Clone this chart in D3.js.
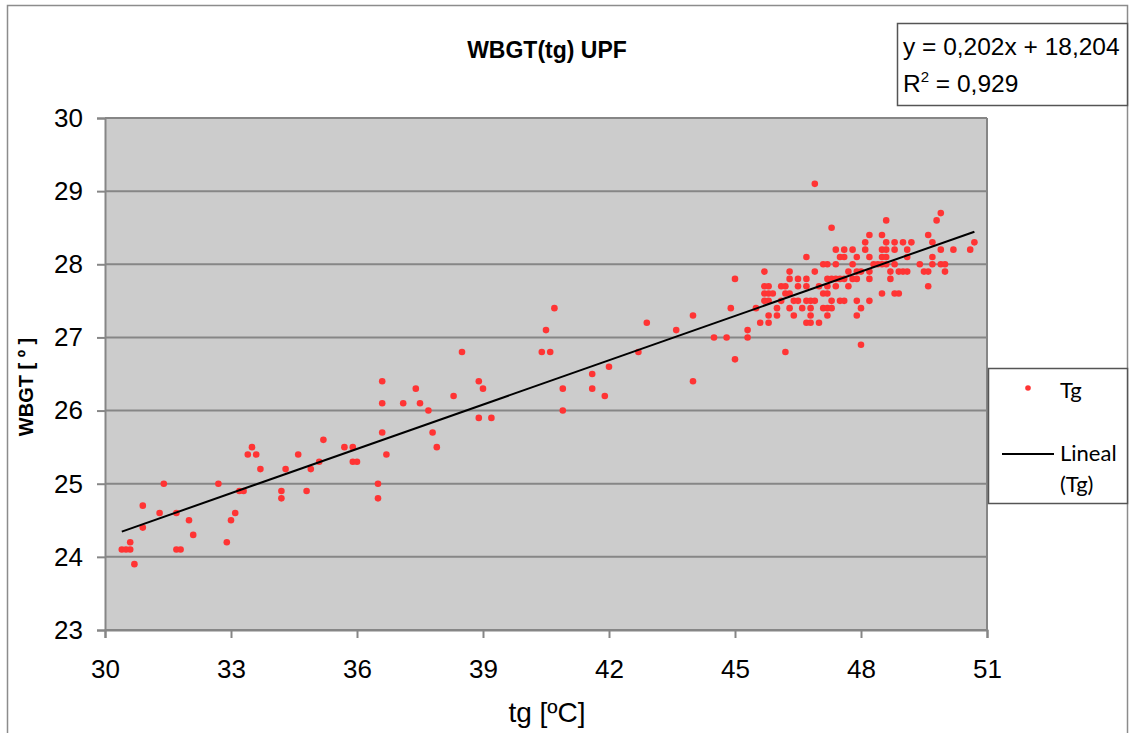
<!DOCTYPE html>
<html>
<head>
<meta charset="utf-8">
<script src="https://cdn.jsdelivr.net/npm/d3@7"></script>
<style>
  html, body { margin: 0; padding: 0; background: #ffffff; }
  svg { display: block; }
</style>
</head>
<body>
<svg id="chart" width="1131" height="733"></svg>
<script>
// Globe temperature (tg) readings and WBGT values, grouped by measured WBGT.
const sparseTg   = [30.4,30.5,30.6,30.6,30.7,30.9,30.9,31.3,31.4,31.7,31.7,31.8,32.0,32.1,32.7,32.9,33.0,33.1,33.2,33.3,33.4,33.5,33.6,33.7,34.2,34.2,34.3,34.6,34.8,34.9,35.1,35.2,35.7,35.9,35.9,36.0,36.5,36.5,36.6,36.6,36.6,36.7,37.1,37.4,37.5,37.7,37.8,37.9,38.3,38.5,38.9,39.0,38.9,39.2,40.4,40.5,40.6,40.7,40.9,40.9,41.6,41.6,41.9,42.0,42.7,42.9,43.6,44.0,44.0,44.5,44.8,45.0,45.0,44.9,45.3,45.3,45.5];
const sparseWbgt = [24.1,24.1,24.1,24.2,23.9,24.4,24.7,24.6,25.0,24.6,24.1,24.1,24.5,24.3,25.0,24.2,24.5,24.6,24.9,24.9,25.4,25.5,25.4,25.2,24.9,24.8,25.2,25.4,24.9,25.2,25.3,25.6,25.5,25.5,25.3,25.3,25.0,24.8,26.4,26.1,25.7,25.4,26.1,26.3,26.1,26.0,25.7,25.5,26.2,26.8,26.4,26.3,25.9,25.9,26.8,27.1,26.8,27.4,26.3,26.0,26.5,26.3,26.2,26.6,26.8,27.2,27.1,27.3,26.4,27.0,27.0,27.8,26.7,27.4,27.1,27.0,27.4];

// Dense group of readings above 45 ºC, one row per WBGT value.
const rowWbgt = [29.1, 28.7, 28.6, 28.5, 28.4, 28.3, 28.2, 28.1, 28.0, 27.9, 27.8, 27.7, 27.6, 27.5, 27.4, 27.3, 27.2, 26.9, 26.8];
const rowTg = [
  [46.9],
  [49.9],
  [48.6, 49.8],
  [47.3],
  [48.2, 48.5, 49.6],
  [48.1, 48.6, 48.8, 49.0, 49.2, 49.7, 50.7],
  [47.4, 47.6, 47.8, 48.1, 48.5, 48.6, 48.8, 49.1, 49.9, 50.2, 50.6],
  [46.7, 47.5, 47.6, 47.9, 48.2, 48.5, 48.6, 49.1, 49.7],
  [47.1, 47.2, 47.4, 47.8, 48.3, 48.4, 48.5, 48.6, 48.8, 49.4, 49.7, 49.9, 50.0],
  [45.7, 46.3, 46.9, 47.7, 47.9, 48.0, 48.2, 48.7, 48.9, 49.0, 49.1, 49.5, 49.6, 50.0],
  [46.3, 46.5, 46.7, 47.2, 47.3, 47.4, 47.5, 47.6, 47.8, 47.9, 48.2, 48.7],
  [45.7, 45.8, 46.1, 46.2, 46.5, 46.7, 47.0, 47.2, 47.4, 47.7, 49.6],
  [45.7, 45.8, 45.9, 46.2, 46.3, 47.1, 47.2, 48.5, 48.8, 48.9],
  [45.7, 45.8, 46.1, 46.4, 46.5, 46.7, 46.8, 46.9, 47.3, 47.5, 47.6, 47.9, 48.2],
  [46.0, 46.3, 46.6, 46.8, 47.1, 47.2, 47.3, 48.0],
  [45.8, 46.0, 46.4, 46.8, 47.2, 47.9],
  [45.6, 45.8, 46.7, 46.8, 47.0],
  [48.0],
  [46.2]
];

// Linear fit reported for the series.
const fitSlope = 0.202;
const fitIntercept = 18.204;
const fitLabel = "y = 0,202x + 18,204";
const r2Value = "0,929";

const xTicks = [30, 33, 36, 39, 42, 45, 48, 51];
const yTicks = [23, 24, 25, 26, 27, 28, 29, 30];

const points = sparseTg.map((t, i) => ({ x: t, y: sparseWbgt[i] }));
rowWbgt.forEach((w, i) => rowTg[i].forEach(t => points.push({ x: t, y: w })));

const svg = d3.select("#chart");
const plot = { left: 105, right: 987, top: 118, bottom: 630 };

const x = d3.scaleLinear().domain([30, 51]).range([plot.left, plot.right]);
const y = d3.scaleLinear().domain([23, 30]).range([plot.bottom, plot.top]);

const markerColor = "#ff3434";
const fontMain = "'Liberation Sans', Arial, sans-serif";
const fontLegend = "Lato, 'Open Sans', sans-serif";

// Outer chart frame
svg.append("rect")
  .attr("x", 7.5).attr("y", 5.5).attr("width", 1120).attr("height", 740)
  .attr("fill", "#ffffff").attr("stroke", "#8c8c8c").attr("stroke-width", 1.5);

// Plot background
svg.append("rect")
  .attr("x", plot.left).attr("y", plot.top)
  .attr("width", plot.right - plot.left).attr("height", plot.bottom - plot.top)
  .attr("fill", "#cccccc");

// Horizontal gridlines
svg.append("g")
  .selectAll("line")
  .data(yTicks)
  .join("line")
  .attr("x1", plot.left).attr("x2", plot.right)
  .attr("y1", d => y(d)).attr("y2", d => y(d))
  .attr("stroke", "#868686").attr("stroke-width", 2);

// Right border of plot area
svg.append("line")
  .attr("x1", plot.right).attr("x2", plot.right)
  .attr("y1", plot.top).attr("y2", plot.bottom)
  .attr("stroke", "#868686").attr("stroke-width", 2);

// Axes
const yAxis = svg.append("g")
  .attr("transform", `translate(${plot.left},0)`)
  .call(d3.axisLeft(y).tickValues(yTicks).tickSize(8).tickPadding(14).tickFormat(d3.format("d")));
const xAxis = svg.append("g")
  .attr("transform", `translate(0,${plot.bottom})`)
  .call(d3.axisBottom(x).tickValues(xTicks).tickSize(8).tickPadding(22).tickFormat(d3.format("d")));

[yAxis, xAxis].forEach(g => {
  g.select(".domain").attr("stroke", "#868686").attr("stroke-width", 2);
  g.selectAll(".tick line").attr("stroke", "#868686").attr("stroke-width", 2);
  g.selectAll(".tick text")
    .attr("fill", "#000").attr("font-family", fontMain).attr("font-size", 26);
});

// Scatter markers
svg.append("g")
  .selectAll("circle")
  .data(points)
  .join("circle")
  .attr("cx", d => x(d.x))
  .attr("cy", d => y(d.y))
  .attr("r", 3.3)
  .attr("fill", markerColor);

// Trend line across the observed range
const xExtent = d3.extent(points, d => d.x);
svg.append("line")
  .attr("x1", x(xExtent[0])).attr("y1", y(fitSlope * xExtent[0] + fitIntercept))
  .attr("x2", x(xExtent[1])).attr("y2", y(fitSlope * xExtent[1] + fitIntercept))
  .attr("stroke", "#000").attr("stroke-width", 2);

// Title
svg.append("text")
  .attr("x", 547).attr("y", 58)
  .attr("text-anchor", "middle")
  .attr("font-family", fontMain).attr("font-weight", "bold").attr("font-size", 23)
  .text("WBGT(tg) UPF");

// Axis titles
svg.append("text")
  .attr("x", 547).attr("y", 722)
  .attr("text-anchor", "middle")
  .attr("font-family", fontMain).attr("font-size", 28)
  .text("tg [ºC]");

svg.append("text")
  .attr("transform", "translate(33,387) rotate(-90)")
  .attr("text-anchor", "middle")
  .attr("font-family", fontMain).attr("font-weight", "bold").attr("font-size", 20)
  .text("WBGT [ º ]");

// Regression equation box
svg.append("rect")
  .attr("x", 897.5).attr("y", 23.5).attr("width", 230).attr("height", 82)
  .attr("fill", "#ffffff").attr("stroke", "#555555").attr("stroke-width", 1.5);
svg.append("text")
  .attr("x", 903).attr("y", 55)
  .attr("font-family", fontMain).attr("font-size", 24.5)
  .text(fitLabel);
const r2 = svg.append("text")
  .attr("x", 903).attr("y", 92)
  .attr("font-family", fontMain).attr("font-size", 24.5);
r2.append("tspan").text("R");
r2.append("tspan").attr("dy", -10).attr("font-size", 15).text("2");
r2.append("tspan").attr("dy", 10).text(" = " + r2Value);

// Legend
svg.append("rect")
  .attr("x", 988.5).attr("y", 368.5).attr("width", 139).attr("height", 135)
  .attr("fill", "#ffffff").attr("stroke", "#555555").attr("stroke-width", 1.5);
svg.append("circle")
  .attr("cx", 1028).attr("cy", 388).attr("r", 2.8)
  .attr("fill", markerColor);
svg.append("text")
  .attr("x", 1060).attr("y", 398)
  .attr("font-family", fontLegend).attr("font-size", 22)
  .text("Tg");
svg.append("line")
  .attr("x1", 1002).attr("x2", 1054).attr("y1", 454).attr("y2", 454)
  .attr("stroke", "#000").attr("stroke-width", 2);
svg.append("text")
  .attr("x", 1060).attr("y", 461)
  .attr("font-family", fontLegend).attr("font-size", 22)
  .text("Lineal");
svg.append("text")
  .attr("x", 1060).attr("y", 492)
  .attr("font-family", fontLegend).attr("font-size", 22)
  .text("(Tg)");
</script>
</body>
</html>
